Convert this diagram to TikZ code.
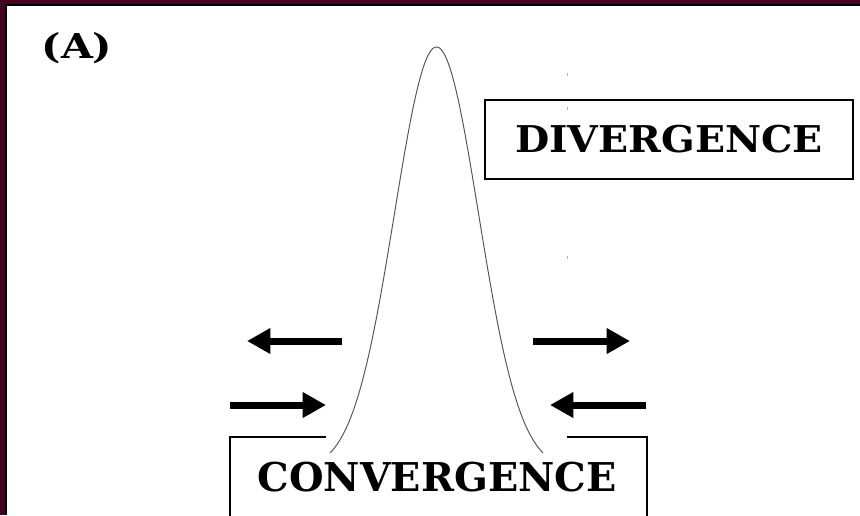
\documentclass[tikz,border=0pt]{standalone}
\usepackage{fontspec}
\newfontfamily\copperfont{DejaVu Serif}
\usepackage{graphicx}
\usepackage{tikz}
\usetikzlibrary{arrows.meta,positioning}
\definecolor{framemaroon}{RGB}{70,0,34}
\definecolor{curvegray}{RGB}{85,85,85}

\begin{document}
\begin{tikzpicture}[x=0.02cm, y=-0.02cm,
    capsfont/.style={font=\copperfont\bfseries\fontsize{21}{24}\selectfont},
    divbox/.style={rectangle, draw=black, line width=1.15pt, inner sep=0pt,
        minimum width=7.36cm, minimum height=1.58cm},
    openbox/.style={line width=1.15pt, black},
    bigarr/.style={line width=0.14cm, -{Triangle[length=0.47cm, width=0.49cm]}},
    gausscurve/.style={line width=0.55pt, curvegray}
]
    \useasboundingbox (0,0) rectangle (860,515);
    % frame
    \fill[white] (0,0) rectangle (860,515);
    \fill[framemaroon] (0,0) rectangle (860,4.3);
    \fill[framemaroon] (0,0) rectangle (5,515);
    \fill[black] (5,4.3) rectangle (860,6.3);
    \fill[black] (5,4.3) rectangle (7.3,515);

    % panel label
    \node[font=\copperfont\bfseries\fontsize{19.5}{22}\selectfont] (panel) at (77,48) {\scalebox{1.2}[1]{(A)}};

    % bell curve
    \draw[gausscurve] plot[domain=-106.5:106.5, samples=120, smooth]
        ({436.5+\x}, {470-423*exp(-(\x*\x)/3528)});

    % specks
    \draw[gray!60, line width=0.4pt] (567,73) -- (567,76) (567,107) -- (567,110) (567,256) -- (567,259);

    % divergence
    \node[divbox] (div) at (669,139.5) {};
    \node[capsfont] (divtext) at (div.center) {\scalebox{1.07}[1]{DIVERGENCE}};

    % convergence
    \node[font=\copperfont\bfseries\fontsize{22.6}{26}\selectfont] (conv) at (437,477) {CONVERGENCE};
    \coordinate (cvL) at (326,437);
    \coordinate (cvR) at (567,437);
    \draw[openbox] (cvL) -- (230,437) -- (230,520);
    \draw[openbox] (cvR) -- (647,437) -- (647,520);

    % arrows
    \coordinate (outLtail) at (342,341);
    \coordinate (outLtip) at (247,341);
    \coordinate (outRtail) at (533,341);
    \coordinate (outRtip) at (630,341);
    \coordinate (inLtail) at (230,405);
    \coordinate (inLtip) at (326,405);
    \coordinate (inRtail) at (646,405);
    \coordinate (inRtip) at (550,405);
    \draw[bigarr] (outLtail) -- (outLtip);
    \draw[bigarr] (outRtail) -- (outRtip);
    \draw[bigarr] (inLtail) -- (inLtip);
    \draw[bigarr] (inRtail) -- (inRtip);
\end{tikzpicture}
\end{document}
